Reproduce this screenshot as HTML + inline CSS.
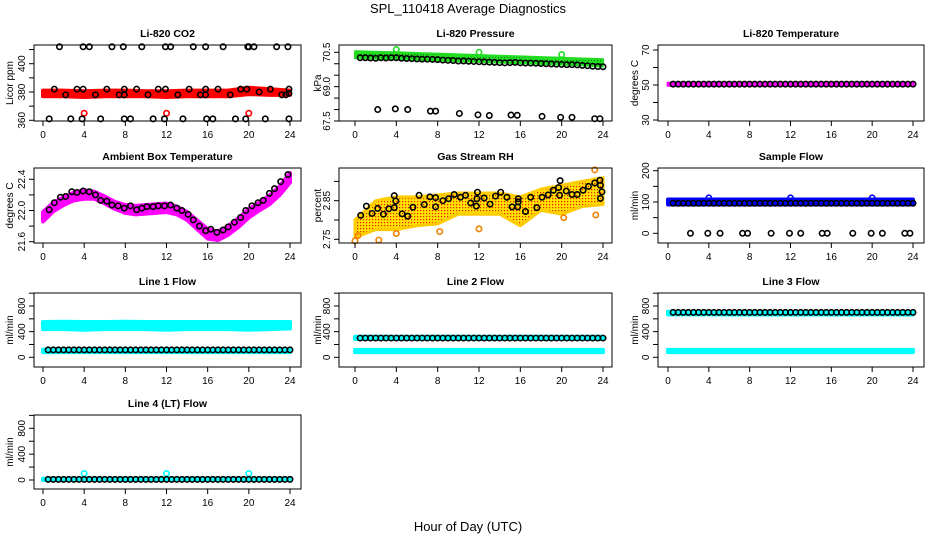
<!DOCTYPE html>
<html><head><meta charset="utf-8"><style>
html,body{margin:0;padding:0;background:#fff;}
svg{display:block;font-family:"Liberation Sans",Arial,sans-serif;}
</style></head><body>
<svg id="chart" width="936" height="540" viewBox="0 0 936 540">
<defs>
<pattern id="rhpat" width="3" height="3" patternUnits="userSpaceOnUse"><rect width="3" height="3" fill="#ffe000"/><rect width="1.2" height="1.2" fill="#e82000"/></pattern>
<pattern id="prpat" width="3" height="3" patternUnits="userSpaceOnUse"><rect width="3" height="3" fill="#22dd22"/><rect width="1" height="1" fill="#117711"/></pattern>
</defs>
<text x="468" y="13" text-anchor="middle" font-size="13">SPL_110418  Average Diagnostics</text>
<text x="468" y="531" text-anchor="middle" font-size="13">Hour of Day (UTC)</text>
</svg>
<script>
// ---- data ----
const HALF=[0.5,1,1.5,2,2.5,3,3.5,4,4.5,5,5.5,6,6.5,7,7.5,8,8.5,9,9.5,10,10.5,11,11.5,12,12.5,13,13.5,14,14.5,15,15.5,16,16.5,17,17.5,18,18.5,19,19.5,20,20.5,21,21.5,22,22.5,23,23.5,24];
const EVEN=[0,2,4,6,8,10,12,14,16,18,20,22,24];
const HOURS=[0,1,2,3,4,5,6,7,8,9,10,11,12,13,14,15,16,17,18,19,20,21,22,23,24];
const XTICKS=[0,4,8,12,16,20,24];

const co2Lo=[377,377,376.5,377,377,377,376.5,377,377,377,378.5,378,378];
const co2Hi=[381,381,380.5,381,381,380.5,380.5,381,381,381,383,382,381];
const co2PtX=[1.6,3.9,4.5,6.7,7.8,9.6,11.9,12.4,14.6,15.8,17.5,19.9,20.0,20.5,22.7,23.8,
 0.6,2.7,3.8,5.6,7.9,8.5,10.7,11.8,13.6,15.9,16.5,18.7,19.7,21.6,23.9,
 1.1,2.2,3.3,3.9,5.1,6.2,7.4,7.9,7.9,9.1,10.2,11.2,11.9,13.1,14.2,15.3,15.8,15.8,17.0,18.2,19.2,19.8,21.0,22.1,23.2,23.6,23.9,23.9];
const co2PtY=[412,412,412,412,412,412,412,412,412,412,412,412,412,412,412,412,
 361,361,361,361,361,361,361,361,361,361,361,361,361,361,361,
 382,378,382,382,378,382,378,382,378,382,378,382,382,378,382,378,382,378,382,378,382,382,380,382,378,378,382,379];
const co2RedX=[4,12,20];
const co2RedY=[365,365,365];

const presLo=[70.25,70.22,70.2,70.17,70.14,70.11,70.08,70.05,70.02,69.99,69.96,69.93,69.88];
const presHi=[70.55,70.52,70.5,70.47,70.44,70.41,70.38,70.35,70.32,70.29,70.26,70.23,70.2];
const presUp=[70.26,70.26,70.25,70.24,70.26,70.25,70.26,70.26,70.24,70.23,70.22,70.21,70.2,70.2,70.19,70.18,70.16,70.15,70.14,70.12,70.12,70.11,70.1,70.09,70.08,70.07,70.06,70.05,70.04,70.05,70.06,70.04,70.03,70.03,70.02,70.01,70.0,69.99,69.98,69.97,69.96,69.96,69.95,69.93,69.91,69.89,69.88,69.87];
const presLowX=[2.2,3.9,5.1,7.3,7.8,10.1,11.9,13.0,15.1,15.7,18.1,19.9,21.0,23.2,23.7];
const presLowY=[68.0,68.03,68.0,67.93,67.93,67.83,67.77,67.74,67.76,67.75,67.7,67.66,67.66,67.6,67.6];
const presOutX=[4,12,20];
const presOutY=[70.62,70.5,70.4];

const ltLo=[49.8,49.8,49.8,49.8,49.8,49.8,49.8,49.8,49.8,49.8,49.8,49.8,49.8];
const ltHi=[51.0,51.0,51.0,51.0,51.0,51.0,51.0,51.0,51.0,51.0,51.0,51.0,51.0];
const ltPts=[50.5,50.5,50.5,50.5,50.5,50.5,50.5,50.5,50.5,50.5,50.5,50.5,50.5,50.5,50.5,50.5,50.5,50.5,50.5,50.5,50.5,50.5,50.5,50.5,50.5,50.5,50.5,50.5,50.5,50.5,50.5,50.5,50.5,50.5,50.5,50.5,50.5,50.5,50.5,50.5,50.5,50.5,50.5,50.5,50.5,50.5,50.5,50.5];

const ambLo=[21.86,21.99,22.07,22.13,22.15,22.15,22.09,22.02,21.97,21.95,21.96,21.97,21.98,21.95,21.88,21.76,21.64,21.62,21.69,21.79,21.91,22.0,22.08,22.2,22.36];
const ambHi=[21.98,22.1,22.17,22.23,22.26,22.24,22.18,22.11,22.07,22.06,22.07,22.08,22.09,22.05,21.98,21.87,21.76,21.73,21.8,21.9,22.02,22.1,22.19,22.31,22.48];
const ambX=[0.6,1.1,1.7,2.2,2.8,3.3,3.9,4.5,5.1,5.6,6.2,6.7,7.3,7.9,8.5,9.1,9.6,10.1,10.7,11.2,11.8,12.4,13.0,13.5,14.1,14.6,15.2,15.8,16.3,16.9,17.5,18.0,18.6,19.2,19.7,20.3,20.9,21.4,22.0,22.5,23.1,23.8];
const ambY=[22.01,22.1,22.17,22.18,22.24,22.23,22.25,22.24,22.2,22.13,22.12,22.07,22.06,22.03,22.06,22.01,22.03,22.05,22.05,22.06,22.06,22.07,22.03,22.0,21.95,21.88,21.8,21.74,21.76,21.72,21.75,21.79,21.85,21.91,22.0,22.06,22.1,22.13,22.22,22.28,22.37,22.46];

const rhLo=[2.755,2.775,2.775,2.785,2.79,2.815,2.815,2.815,2.785,2.825,2.815,2.835,2.84];
const rhHi=[2.80,2.85,2.86,2.86,2.865,2.87,2.87,2.87,2.86,2.88,2.89,2.90,2.91];
const rhX=[0.55,1.1,1.65,2.2,2.75,3.27,3.8,3.8,3.95,4.56,5.1,5.6,6.2,6.7,7.25,7.8,7.8,8.5,9.06,9.6,10.2,10.7,11.2,11.75,11.85,11.8,12.5,13.07,13.6,14.1,14.7,15.2,15.75,15.8,15.8,16.5,17.0,17.6,18.1,18.7,19.2,19.7,19.85,19.8,20.45,21.0,21.5,22.07,22.6,23.2,23.7,23.75,23.75,23.9];
const rhY=[2.812,2.836,2.817,2.83,2.815,2.829,2.832,2.863,2.849,2.816,2.81,2.833,2.864,2.84,2.86,2.858,2.834,2.85,2.855,2.866,2.859,2.864,2.844,2.836,2.872,2.855,2.857,2.841,2.862,2.872,2.859,2.834,2.834,2.855,2.847,2.822,2.859,2.832,2.859,2.865,2.877,2.884,2.902,2.864,2.875,2.866,2.866,2.877,2.887,2.896,2.903,2.89,2.856,2.873];
const rhOutX=[0,2.3,4,8.2,12,23.2,23.3,20.2,0.3];
const rhOutY=[2.746,2.748,2.765,2.77,2.777,2.93,2.813,2.806,2.76];

const sfLo=[92,92,92,92,92,92,92,92,92,92,92,92,92];
const sfHi=[108,108,108,108,108,108,108,108,108,108,108,108,108];
const sfPts=[96,96,96,96,96,96,96,96,96,96,96,96,96,96,96,96,96,96,96,96,96,96,96,96,96,96,96,96,96,96,96,96,96,96,96,96,96,96,96,96,96,96,96,96,96,96,96,96];
const sfZeroX=[2.2,3.9,5.1,7.3,7.8,10.1,11.9,13.0,15.1,15.6,18.1,19.9,21.0,23.2,23.7];
const sfZeroY=[0,0,0,0,0,0,0,0,0,0,0,0,0,0,0];
const sfOutX=[4,12,20];
const sfOutY=[113,113,113];

const l1HiLo=[440,440,430,440,440,440,430,440,440,440,430,440,450];
const l1HiHi=[550,555,550,550,555,550,550,550,550,550,550,550,550];
const l1BaseLo=[80,80,80,80,80,80,80,80,80,80,80,80,80];
const l1BaseHi=[120,120,120,120,120,120,120,120,120,120,120,120,120];
const l1Pts=[115,115,115,115,115,115,115,115,115,115,115,115,115,115,115,115,115,115,115,115,115,115,115,115,115,115,115,115,115,115,115,115,115,115,115,115,115,115,115,115,115,115,115,115,115,115,115,115];

const l2HiLo=[285,285,285,285,285,285,285,285,285,285,285,285,285];
const l2HiHi=[320,320,320,320,320,320,320,320,320,320,320,320,320];
const l2BaseLo=[80,80,80,80,80,80,80,80,80,80,80,80,80];
const l2BaseHi=[115,115,115,115,115,115,115,115,115,115,115,115,115];
const l2Pts=[300,300,300,300,300,300,300,300,300,300,300,300,300,300,300,300,300,300,300,300,300,300,300,300,300,300,300,300,300,300,300,300,300,300,300,300,300,300,300,300,300,300,300,300,300,300,300,300];

const l3HiLo=[670,670,670,668,668,668,668,668,668,668,668,668,668];
const l3HiHi=[710,710,710,708,708,708,708,708,708,708,708,708,708];
const l3BaseLo=[80,80,80,80,80,80,80,80,80,80,80,80,80];
const l3BaseHi=[115,115,115,115,115,115,115,115,115,115,115,115,115];
const l3Pts=[700,700,700,700,700,700,700,700,700,700,700,700,700,700,700,700,700,700,700,700,700,700,700,700,700,700,700,700,700,700,700,700,700,700,700,700,700,700,700,700,700,700,700,700,700,700,700,700];

const l4Lo=[0,0,0,0,0,0,0,0,0,0,0,0,0];
const l4Hi=[20,20,20,20,20,20,20,20,20,20,20,20,20];
const l4Pts=[10,10,10,10,10,10,10,10,10,10,10,10,10,10,10,10,10,10,10,10,10,10,10,10,10,10,10,10,10,10,10,10,10,10,10,10,10,10,10,10,10,10,10,10,10,10,10,10];
const l4OutX=[4,12,20];
const l4OutY=[100,100,100];

// ---- layout ----
const NS='http://www.w3.org/2000/svg';
const svg=document.getElementById('chart');
const COLS=[{bx0:34,bx1:301,x0:43,x24:290,yl:9},{bx0:339,bx1:612,x0:355,x24:603,yl:317},{bx0:658,bx1:924,x0:668,x24:913,yl:634}];
const ROWS=[{by0:45,by1:121},{by0:168,by1:243},{by0:293,by1:367},{by0:415,by1:489}];
function mk(tag,attrs,parent){const e=document.createElementNS(NS,tag);for(const k in attrs)e.setAttribute(k,attrs[k]);(parent||svg).appendChild(e);return e;}

function panel(p){
  const c=COLS[p.col], r=ROWS[p.row];
  const g=mk('g',{});
  
  
  const xs=h=>c.x0+(c.x24-c.x0)*h/24;
  const ys=v=>p.cal[1]+(v-p.cal[0])*(p.cal[3]-p.cal[1])/(p.cal[2]-p.cal[0]);
  (p.bands||[]).forEach((b,bi)=>{
    let pts=b.x.map((h,i)=>xs(h)+','+ys(b.hi[i]));
    for(let i=b.x.length-1;i>=0;i--)pts.push(xs(b.x[i])+','+ys(b.lo[i]));
    const poly=mk('polygon',{points:pts.join(' '),fill:b.fill,stroke:b.color,'stroke-width':b.sw||4,'stroke-linejoin':'round'},g);
    
    
  });
  (p.pts||[]).forEach((s,si)=>{
    s.y.forEach((v,i)=>{
      const ci=mk('circle',{cx:xs(s.x[i]),cy:ys(v),r:2.7,fill:'none',stroke:s.color,'stroke-width':1.6},g);
      
      
    });
  });
  const box=mk('rect',{x:c.bx0,y:r.by0,width:c.bx1-c.bx0,height:r.by1-r.by0,fill:'none',stroke:'#000','stroke-width':1},g);
  
  
  const xa=mk('g',{},g);
  
  
  mk('line',{x1:xs(0),x2:xs(24),y1:r.by1,y2:r.by1,stroke:'#000'},xa);
  XTICKS.forEach(t=>{
    mk('line',{x1:xs(t),x2:xs(t),y1:r.by1,y2:r.by1+5,stroke:'#000'},xa);
    const tx=mk('text',{x:xs(t),y:r.by1+17,'text-anchor':'middle','font-size':10},xa);
    tx.textContent=t;
    
    
  });
  const ya=mk('g',{},g);
  
  
  mk('line',{x1:c.bx0,x2:c.bx0,y1:ys(p.ticks[0]),y2:ys(p.ticks[p.ticks.length-1]),stroke:'#000'},ya);
  p.ticks.forEach(t=>{mk('line',{x1:c.bx0-5,x2:c.bx0,y1:ys(t),y2:ys(t),stroke:'#000'},ya);});
  p.labels.forEach(t=>{
    const y=ys(t), x=c.bx0-9;
    const tx=mk('text',{x:x,y:y,'text-anchor':'middle','font-size':10,transform:`rotate(-90 ${x} ${y})`},ya);
    tx.textContent=p.fmt?t.toFixed(p.fmt):t;
    
    
  });
  const yt=mk('text',{x:c.yl+4,y:(r.by0+r.by1)/2,'text-anchor':'middle','font-size':10,transform:`rotate(-90 ${c.yl+4} ${(r.by0+r.by1)/2})`},g);
  yt.textContent=p.ylab;
  
  
  const tt=mk('text',{x:(c.bx0+c.bx1)/2,y:r.by0-8,'text-anchor':'middle','font-size':10.5,'font-weight':'bold'},g);
  tt.textContent=p.title;
  
  
}
const FT=[0,200,400,600,800,1000], FL=[0,400,800];
panel({id:'co2',col:0,row:0,title:'Li-820 CO2',ylab:'Licor ppm',cal:[360,120.3,400,63.7],ticks:[360,370,380,390,400,410],labels:[360,380,400],
 bands:[{x:EVEN,lo:co2Lo,hi:co2Hi,color:'#ff0000',fill:'#ff0000'}],
 pts:[{x:co2RedX,y:co2RedY,color:'#ff0000'},{x:co2PtX,y:co2PtY,color:'#000'}]});
panel({id:'pressure',col:1,row:0,title:'Li-820 Pressure',ylab:'kPa',cal:[67.5,121,70.5,52.3],ticks:[67.5,68,68.5,69,69.5,70,70.5],labels:[67.5,69.0,70.5],fmt:1,
 bands:[{x:EVEN,lo:presLo,hi:presHi,color:'#22dd22',fill:'url(#prpat)',sw:2}],
 pts:[{x:presOutX,y:presOutY,color:'#22dd22'},{x:HALF,y:presUp,color:'#000'},{x:presLowX,y:presLowY,color:'#000'}]});
panel({id:'licor-temp',col:2,row:0,title:'Li-820 Temperature',ylab:'degrees C',cal:[30,120,70,50],ticks:[30,40,50,60,70],labels:[30,50,70],
 bands:[{x:EVEN,lo:ltLo,hi:ltHi,color:'#ff00ff',fill:'#ff00ff',sw:3}],
 pts:[{x:HALF,y:ltPts,color:'#000'}]});
panel({id:'ambient-temp',col:0,row:1,title:'Ambient Box Temperature',ylab:'degrees C',cal:[21.6,241.7,22.4,179.3],ticks:[21.6,21.8,22.0,22.2,22.4],labels:[21.6,22.0,22.4],fmt:1,
 bands:[{x:HOURS,lo:ambLo,hi:ambHi,color:'#ff00ff',fill:'#ff00ff'}],
 pts:[{x:ambX,y:ambY,color:'#000'}]});
panel({id:'rh',col:1,row:1,title:'Gas Stream RH',ylab:'percent',cal:[2.75,239.3,2.85,200.7],ticks:[2.75,2.8,2.85,2.9],labels:[2.75,2.85],fmt:2,
 bands:[{x:EVEN,lo:rhLo,hi:rhHi,color:'#ffcc00',fill:'url(#rhpat)',sw:3}],
 pts:[{x:rhOutX,y:rhOutY,color:'#f08000'},{x:rhX,y:rhY,color:'#000'}]});
panel({id:'sample-flow',col:2,row:1,title:'Sample Flow',ylab:'ml/min',cal:[0,233.3,200,170.7],ticks:[0,50,100,150,200],labels:[0,100,200],
 bands:[{x:EVEN,lo:sfLo,hi:sfHi,color:'#0000ff',fill:'#0000ff'}],
 pts:[{x:sfOutX,y:sfOutY,color:'#0000ff'},{x:HALF,y:sfPts,color:'#000'},{x:sfZeroX,y:sfZeroY,color:'#000'}]});
panel({id:'line1-flow',col:0,row:2,title:'Line 1 Flow',ylab:'ml/min',cal:[0,357.3,800,306],ticks:FT,labels:FL,
 bands:[{x:EVEN,lo:l1HiLo,hi:l1HiHi,color:'#00ffff',fill:'#00ffff'},{x:EVEN,lo:l1BaseLo,hi:l1BaseHi,color:'#00ffff',fill:'#00ffff'}],
 pts:[{x:HALF,y:l1Pts,color:'#000'}]});
panel({id:'line2-flow',col:1,row:2,title:'Line 2 Flow',ylab:'ml/min',cal:[0,357.3,800,306],ticks:FT,labels:FL,
 bands:[{x:EVEN,lo:l2HiLo,hi:l2HiHi,color:'#00ffff',fill:'#00ffff'},{x:EVEN,lo:l2BaseLo,hi:l2BaseHi,color:'#00ffff',fill:'#00ffff'}],
 pts:[{x:HALF,y:l2Pts,color:'#000'}]});
panel({id:'line3-flow',col:2,row:2,title:'Line 3 Flow',ylab:'ml/min',cal:[0,357.3,800,306],ticks:FT,labels:FL,
 bands:[{x:EVEN,lo:l3HiLo,hi:l3HiHi,color:'#00ffff',fill:'#00ffff'},{x:EVEN,lo:l3BaseLo,hi:l3BaseHi,color:'#00ffff',fill:'#00ffff'}],
 pts:[{x:HALF,y:l3Pts,color:'#000'}]});
panel({id:'line4-flow',col:0,row:3,title:'Line 4 (LT) Flow',ylab:'ml/min',cal:[0,480,800,428.3],ticks:FT,labels:FL,
 bands:[{x:EVEN,lo:l4Lo,hi:l4Hi,color:'#00ffff',fill:'#00ffff'}],
 pts:[{x:l4OutX,y:l4OutY,color:'#00ffff'},{x:HALF,y:l4Pts,color:'#000'}]});
</script>
</body></html>
